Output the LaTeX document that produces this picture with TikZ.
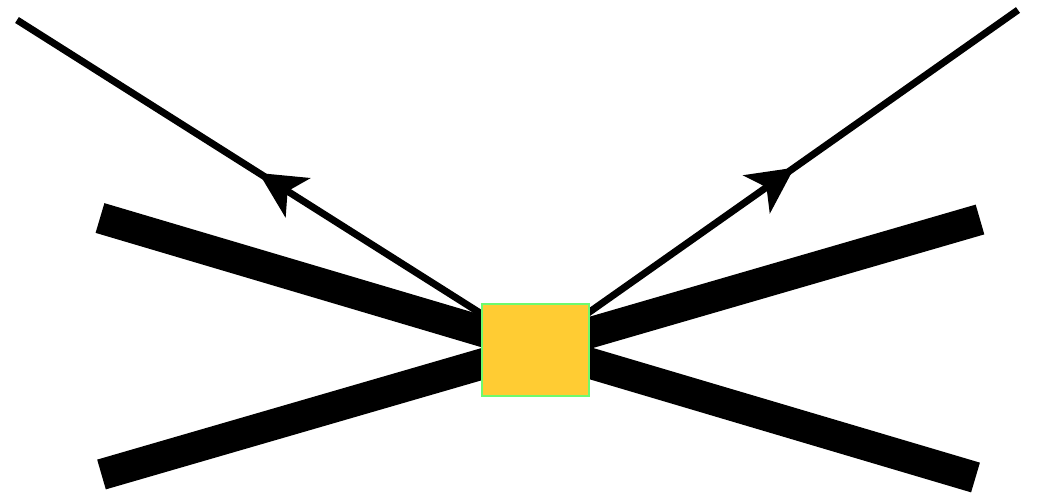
\documentclass[tikz,border=0pt]{standalone}
\usetikzlibrary{arrows.meta,decorations.markings,positioning}
\definecolor{vtxfill}{RGB}{255,204,51}
\definecolor{vtxdraw}{RGB}{110,250,110}
\tikzset{
    %Define style for the heavy lines
    heavy/.style={
           line width=31pt,
           line cap=butt},
    %Define style for the light lines, arrow half way
    light/.style={
           line width=7pt,
           postaction={decorate},
           decoration={markings,
               mark=at position 0.535 with {\arrow{Stealth[length=46pt,width=46pt,inset=12pt]}}}},
    %Define style for the vertex box
    vertex/.style={
           rectangle,
           draw=vtxdraw, line width=1.5pt,
           fill=vtxfill,
           inner sep=0pt,
           minimum width=107pt,
           minimum height=92pt}
}
\begin{document}
\begin{tikzpicture}[x=1pt,y=-1pt]
\useasboundingbox (0,0) rectangle (1053,503);
 %end points
\coordinate (c) at (537,349);
\coordinate (hl1) at (100,218);
\coordinate (hr1) at (975.5,477.5);
\coordinate (hl2) at (101.5,474.5);
\coordinate (hr2) at (980,219.5);
\coordinate (ol) at (17,20);
\coordinate (or) at (1018,10);
 %lines
\draw[heavy] (hl1) -- (hr1);
\draw[heavy] (hl2) -- (hr2);
\draw[light] (c) -- (ol);
\draw[light] (c) -- (or);
 %vertex
\node[vertex] (v) at (535.5,350) {};
\end{tikzpicture}
\end{document}
